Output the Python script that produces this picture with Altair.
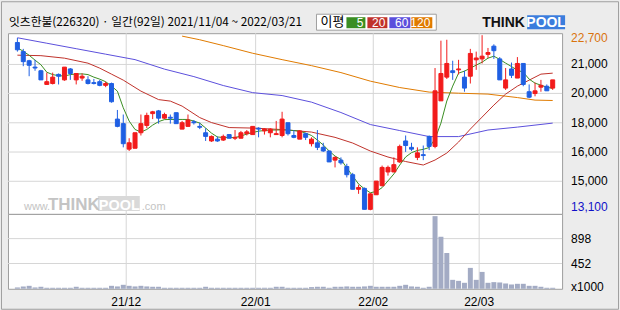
import altair as alt
import pandas as pd

# ---------------- data ----------------
opens = [22300, 21800, 21300, 20950, 20750, 20000, 20050, 20550, 20250, 20850,
         20250, 20350, 20250, 20100, 20150, 19950, 20050, 18100, 17850, 16450,
         16500, 17350, 17750, 18400, 18550, 18150, 18200, 18450, 17550, 17700,
         17950, 17700, 17350, 16900, 17000, 16950, 17250, 17050, 17050, 17300,
         17250, 17600, 17450, 17350, 17250, 17200, 17900, 17200, 17000, 17300,
         16750, 16800, 16550, 16350, 15850, 15850, 15500, 15050, 14250, 14300,
         13150, 13950, 14450, 15200, 15200, 15750, 16900, 16550, 16000, 16150,
         17150, 16600, 19100, 20400, 20750, 20800, 20400, 20450, 21350, 21400,
         21650, 22100, 21400, 19800, 20850, 20350, 21150, 19600, 19500, 19850,
         19900, 19800]
highs = [22550, 21950, 21350, 21350, 20800, 20650, 20650, 20600, 20950, 20900,
         20600, 20600, 20450, 20300, 20250, 20150, 20100, 18600, 18350, 17050,
         17350, 18350, 18450, 18550, 18600, 18450, 18350, 18450, 18000, 18350,
         18050, 17900, 17600, 17200, 17150, 17250, 17250, 17500, 17450, 17500,
         17700, 17650, 17600, 17600, 18000, 18500, 17900, 17500, 17500, 17350,
         17100, 17500, 16800, 16350, 16050, 16000, 15650, 15150, 14500, 14350,
         14050, 14700, 15550, 15550, 16000, 16700, 17200, 16800, 16550, 16650,
         17200, 20900, 22400, 22450, 21300, 21350, 20750, 21950, 21800, 22700,
         22000, 22200, 21500, 20900, 21200, 21500, 21150, 20000, 20100, 20250,
         20000, 20250]
lows = [21800, 21000, 20450, 20750, 20250, 20000, 20000, 20000, 20200, 20250,
        20000, 20200, 20000, 20000, 19900, 19850, 19000, 17650, 16550, 16350,
        16500, 17200, 17600, 18100, 17850, 18100, 17850, 17850, 17550, 17700,
        17800, 17550, 16900, 16850, 16850, 16900, 17050, 16950, 17050, 17200,
        17250, 17100, 17250, 17100, 17250, 17100, 17200, 17050, 17000, 16950,
        16600, 16400, 16300, 15750, 15450, 15600, 14900, 14250, 14000, 13150,
        13100, 13950, 14400, 15000, 15200, 15700, 16300, 16350, 15850, 15850,
        16400, 16500, 19100, 20300, 20250, 20550, 19600, 20050, 20800, 21150,
        21450, 21400, 20250, 19700, 20350, 20350, 19900, 19250, 19350, 19600,
        19650, 19700]
closes = [21900, 21250, 21050, 20900, 20250, 20150, 20400, 20450, 20950, 20600,
          20600, 20450, 20050, 20050, 19950, 20050, 19050, 17700, 16750, 16800,
          17350, 17850, 18300, 18500, 18150, 18350, 18150, 17850, 17900, 18050,
          17900, 17650, 17150, 17150, 16900, 17150, 17050, 17100, 17350, 17400,
          17700, 17550, 17550, 17550, 17300, 18100, 17300, 17100, 17450, 17100,
          17000, 16550, 16350, 15750, 16000, 15700, 15050, 14250, 14350, 13150,
          14000, 14700, 15450, 15450, 15600, 16600, 16650, 16450, 16250, 16100,
          16600, 19650, 20600, 21150, 20650, 20850, 19800, 21700, 21450, 21550,
          21750, 21850, 20250, 20250, 20500, 21150, 20000, 19300, 19650, 19950,
          19650, 20250]
# volume, thousands of shares
volumes = [24, 42, 53, 24, 36, 18, 18, 18, 18, 18,
           36, 18, 18, 18, 18, 18, 53, 42, 71, 53,
           42, 53, 42, 36, 36, 18, 18, 18, 18, 18,
           18, 18, 36, 18, 18, 18, 18, 18, 18, 18,
           18, 18, 18, 18, 36, 36, 18, 18, 18, 18,
           30, 36, 36, 18, 36, 36, 42, 36, 36, 42,
           53, 36, 36, 36, 36, 53, 71, 42, 36, 18,
           36, 1300, 931, 640, 160, 142, 107, 374, 160, 302,
           107, 119, 113, 95, 77, 89, 89, 53, 53, 36,
           18, 18]
ma5 = [22010, 21820, 21600, 21330, 21080, 20670, 20540, 20480, 20460, 20540,
       20570, 20580, 20540, 20400, 20290, 20150, 19910, 19630, 18720, 17990,
       17530, 17390, 17530, 17770, 17960, 18070, 18080, 18080, 18080, 18080,
       17990, 17880, 17610, 17330, 17120, 17090, 17080, 17090, 17170, 17280,
       17360, 17440, 17470, 17500, 17500, 17510, 17500, 17470, 17440, 17330,
       17200, 16950, 16680, 16350, 16070, 15890, 15420, 14980, 14540, 14270,
       14060, 14130, 14340, 14710, 15090, 15580, 16020, 16260, 16380, 16440,
       16540, 17010, 17880, 19090, 19910, 20620, 20730, 20890, 21060, 21220,
       21440, 21550, 21370, 21170, 20980, 20780, 20670, 20290, 20070, 19960,
       19850, 19780]
ma20_idx = [0, 4, 8, 12, 14, 16, 18, 21, 24, 26, 28, 31, 33, 36, 40, 45, 50,
            54, 57, 60, 63, 66, 69, 71, 73, 75, 77, 79, 81, 83, 85, 87, 89, 91]
ma20 = [21605, 21578, 21441, 21167, 20893, 20565, 20236, 19634, 19168, 19086,
        18812, 18182, 17909, 17635, 17607, 17525, 17388, 17098, 16786, 16348,
        16019, 15773, 15581, 15855, 16238, 16841, 17553, 18210, 18867, 19469,
        19907, 20236, 20565, 20619]
ma60_idx = [0, 5, 10, 15, 20, 25, 30, 35, 40, 45, 50, 55, 60, 65, 70, 75, 80, 85, 91]
ma60 = [22560, 22260, 21960, 21660, 21360, 20840, 20430, 19940, 19550, 19390,
        19030, 18460, 17800, 17470, 17140, 17140, 17500, 17660, 17880]
ma120_idx = [28, 31, 35, 40, 45, 50, 55, 60, 65, 70, 75, 80, 85, 88, 91]
ma120 = [22650, 22450, 22130, 21710, 21360, 21030, 20650, 20180, 19830,
         19580, 19520, 19470, 19280, 19140, 19120]

month_first = [19, 41, 61, 79]
month_labels = ["21/12", "22/01", "22/02", "22/03"]
price_grid = [21096, 19508, 17898, 16293, 14689]
price_grid_labels = ["21,000", "20,000", "18,000", "16,000", "15,000"]
price_max_label, price_min_label = "22,700", "13,100"
vol_grid = [898, 452]
vol_grid_labels = ["898", "452"]
vol_unit_label = "x1000"

title_text = "잇츠한불(226320) · 일간(92일) 2021/11/04 ~ 2022/03/21"
legend_title = "이평"
ma_names = ["5", "20", "60", "120"]
ma_colors = ["#3A8E22", "#C0322B", "#5B4FDC", "#E07A00"]
up_color, down_color = "#F21B1B", "#1F5FE3"

# ---------------- layout ----------------
W, HP, HV = 555, 181, 75
FONT = "Liberation Sans"
KFONT = "Noto Sans CJK KR"
GRID = "#D6D6D6"

n = len(opens)
df = pd.DataFrame({"i": list(range(n)), "open": opens, "high": highs,
                   "low": lows, "close": closes, "vol": volumes})
df["dir"] = ["up" if c >= o else "down" for o, c in zip(opens, closes)]

xs = alt.Scale(domain=[-0.75, 91.75], nice=False, zero=False)
ys = alt.Scale(domain=[12900, 22810], nice=False, zero=False)
vs = alt.Scale(domain=[0, 1340], nice=False)
cs = alt.Scale(domain=["up", "down"], range=[up_color, down_color])

X = alt.X("i:Q", scale=xs, axis=None)
one = pd.DataFrame({"k": [0]})
months = pd.DataFrame({"m": month_first, "lab": month_labels})
pgrid = pd.DataFrame({"p": price_grid, "lab": price_grid_labels})

vgrid_p = alt.Chart(months).transform_calculate(g="datum.m - 0.5").mark_rule(
    color=GRID, strokeWidth=1).encode(x=alt.X("g:Q", scale=xs, axis=None))
hgrid_p = alt.Chart(pgrid).mark_rule(color=GRID, strokeWidth=1).encode(
    y=alt.Y("p:Q", scale=ys, axis=None))

# watermark
wm = []
wm.append(alt.Chart(one).mark_rect(color="#D9D9D9").encode(
    x=alt.value(90), x2=alt.value(132), y=alt.value(163), y2=alt.value(178)))
for txt, xp, fs, bold, col in [("www.", 16, 11, False, "#C4C4C4"),
                               ("THINK", 40, 17, True, "#C4C4C4"),
                               ("POOL", 91, 14.5, True, "#FFFFFF"),
                               (".com", 134, 11, False, "#C4C4C4")]:
    wm.append(alt.Chart(one).mark_text(
        text=txt, align="left", baseline="alphabetic", fontSize=fs,
        font=FONT, fontWeight="bold" if bold else "normal", color=col).encode(
        x=alt.value(xp), y=alt.value(177)))

def ma_line(idx, vals, color):
    d = pd.DataFrame({"i": idx, "v": vals})
    return alt.Chart(d).mark_line(color=color, strokeWidth=1).encode(
        x=X, y=alt.Y("v:Q", scale=ys, axis=None))

lines = [ma_line(ma120_idx, ma120, ma_colors[3]),
         ma_line(ma60_idx, ma60, ma_colors[2]),
         ma_line(ma20_idx, ma20, ma_colors[1]),
         ma_line(list(range(n)), ma5, ma_colors[0])]

wicks = alt.Chart(df).mark_rule(strokeWidth=1).encode(
    x=X, y=alt.Y("low:Q", scale=ys, axis=None), y2="high:Q",
    color=alt.Color("dir:N", scale=cs, legend=None))
bodies = alt.Chart(df).mark_bar(size=4, strokeWidth=1).encode(
    x=X, y=alt.Y("open:Q", scale=ys, axis=None), y2="close:Q",
    color=alt.Color("dir:N", scale=cs, legend=None),
    stroke=alt.Stroke("dir:N", scale=cs, legend=None))

# right-side price labels
plabels = alt.Chart(pgrid).mark_text(
    align="left", baseline="middle", fontSize=12, font=FONT, color="black").encode(
    x=alt.value(W + 9), y=alt.Y("p:Q", scale=ys, axis=None), text="lab:N")
maxlab = alt.Chart(pd.DataFrame({"p": [max(highs)], "lab": [price_max_label]})).mark_text(
    align="left", baseline="middle", fontSize=12, font=FONT, color="#D9730D", dy=3).encode(
    x=alt.value(W + 9), y=alt.Y("p:Q", scale=ys, axis=None), text="lab:N")
minlab = alt.Chart(pd.DataFrame({"p": [min(lows)], "lab": [price_min_label]})).mark_text(
    align="left", baseline="middle", fontSize=12, font=FONT, color="#1010C8", dy=-3).encode(
    x=alt.value(W + 9), y=alt.Y("p:Q", scale=ys, axis=None), text="lab:N")

# header: title, MA legend, logo
header = []
header.append(alt.Chart(one).mark_text(
    text=title_text, align="left", baseline="middle", fontSize=11.8, font=KFONT,
    color="black").encode(x=alt.value(1), y=alt.value(-11)))
header.append(alt.Chart(one).mark_rect(fill="white", stroke="#A0A0A0", strokeWidth=1).encode(
    x=alt.value(309), x2=alt.value(429), y=alt.value(-19), y2=alt.value(-3)))
header.append(alt.Chart(one).mark_text(
    text=legend_title, align="left", baseline="middle", fontSize=13, font=KFONT,
    color="black").encode(x=alt.value(313), y=alt.value(-11)))
box_l = [339, 360, 382, 404]
box_r = [358, 380, 403, 425]
for name, col, l, r in zip(ma_names, ma_colors, box_l, box_r):
    header.append(alt.Chart(one).mark_rect(color=col).encode(
        x=alt.value(l), x2=alt.value(r), y=alt.value(-16), y2=alt.value(-5)))
    header.append(alt.Chart(one).mark_text(
        text=name, align="right", baseline="middle", fontSize=12, font=FONT,
        color="white").encode(x=alt.value(r - 2), y=alt.value(-10.5)))
header.append(alt.Chart(one).mark_text(
    text="THINK", align="left", baseline="middle", fontSize=14, font=FONT,
    fontWeight="bold", color="#111111").encode(x=alt.value(475), y=alt.value(-10)))
header.append(alt.Chart(one).mark_rect(color="#3B7DDD").encode(
    x=alt.value(520), x2=alt.value(558), y=alt.value(-18), y2=alt.value(-4)))
header.append(alt.Chart(one).mark_text(
    text="POOL", align="center", baseline="middle", fontSize=14, font=FONT,
    fontWeight="bold", color="white").encode(x=alt.value(539), y=alt.value(-10.5)))
# outer frame (also fixes the page size under autosize "pad")
header.append(alt.Chart(one).mark_rect(filled=False, stroke="#A0A0A0", strokeWidth=1).encode(
    x=alt.value(-6.5), x2=alt.value(611.5), y=alt.value(-31.5), y2=alt.value(276.5)))

price = alt.layer(hgrid_p, vgrid_p, *wm, *lines, wicks, bodies, plabels, maxlab,
                  minlab, *header).properties(width=W, height=HP)

# ---------------- volume panel ----------------
vgrid_v = alt.Chart(months).transform_calculate(g="datum.m - 0.5").mark_rule(
    color=GRID, strokeWidth=1).encode(x=alt.X("g:Q", scale=xs, axis=None))
vg = pd.DataFrame({"p": vol_grid, "lab": vol_grid_labels})
hgrid_v = alt.Chart(vg).mark_rule(color=GRID, strokeWidth=1).encode(
    y=alt.Y("p:Q", scale=vs, axis=None))
vbars = alt.Chart(df).mark_bar(size=5, color="#A3ABC4").encode(
    x=X, y=alt.Y("vol:Q", scale=vs, axis=None))
vlabels = alt.Chart(vg).mark_text(
    align="left", baseline="middle", fontSize=12, font=FONT, color="black").encode(
    x=alt.value(W + 9), y=alt.Y("p:Q", scale=vs, axis=None), text="lab:N")
vunit = alt.Chart(pd.DataFrame({"p": [0], "lab": [vol_unit_label]})).mark_text(
    align="left", baseline="middle", fontSize=12, font=FONT, color="black", dy=-2).encode(
    x=alt.value(W + 9), y=alt.Y("p:Q", scale=vs, axis=None), text="lab:N")
xlabels = alt.Chart(months).transform_calculate(g="datum.m - 0.5").mark_text(
    align="center", baseline="middle", fontSize=12, font=FONT, color="black").encode(
    x=alt.X("g:Q", scale=xs, axis=None), y=alt.value(HV + 13), text="lab:N")

volume = alt.layer(hgrid_v, vgrid_v, vbars, vlabels, vunit, xlabels).properties(
    width=W, height=HV)

chart = alt.vconcat(price, volume, spacing=0, bounds="flush").properties(
    autosize=alt.AutoSizeParams(type="pad"),
    padding=0,
).configure(background="#ECECEC").configure_view(stroke="#9E9E9E", strokeWidth=1, fill="white")

chart.save("out.html", embed_options={"renderer": "svg", "actions": False})
